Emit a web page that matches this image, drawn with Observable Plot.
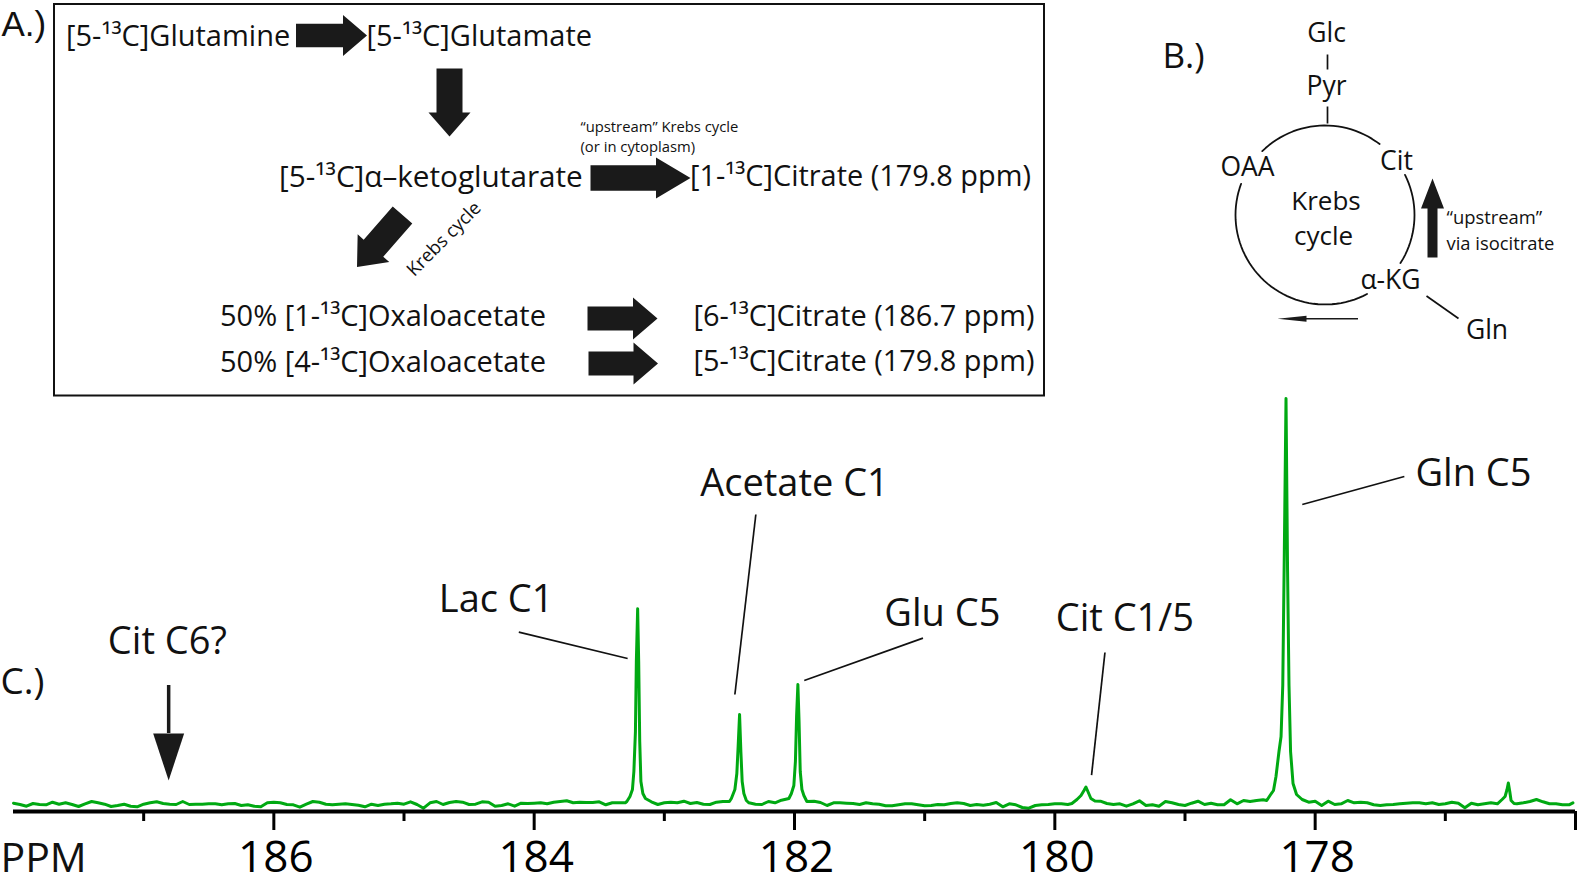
<!DOCTYPE html>
<html><head><meta charset="utf-8">
<script src="https://cdn.jsdelivr.net/npm/d3@7"></script>
<script src="https://cdn.jsdelivr.net/npm/@observablehq/plot@0.6"></script>
<style>html,body{margin:0;padding:0;background:#fff}svg{display:block}#chart{width:1577px;height:884px;overflow:hidden}</style>
</head><body><div id="chart"></div>
<script>
const FONT = "'Open Sans', sans-serif";
const INK = "#111111", BLOCK = "#1a1a1a", GREEN = "#00a912";

/* Spectrum: chemical shift (ppm) and signal (a.u.) */
const spectrumPpm = [
 188.00,187.95,187.90,187.85,187.80,187.75,187.70,187.65,187.60,187.55,
 187.50,187.45,187.40,187.35,187.30,187.25,187.20,187.15,187.10,187.05,
 187.00,186.95,186.90,186.85,186.80,186.75,186.70,186.65,186.60,186.55,
 186.50,186.45,186.40,186.35,186.30,186.25,186.20,186.15,186.10,186.05,
 186.00,185.95,185.90,185.85,185.80,185.75,185.70,185.65,185.60,185.55,
 185.50,185.45,185.40,185.35,185.30,185.25,185.20,185.15,185.10,185.05,
 185.00,184.95,184.90,184.85,184.80,184.75,184.70,184.65,184.60,184.55,
 184.50,184.45,184.40,184.35,184.30,184.25,184.20,184.15,184.10,184.05,
 184.00,183.95,183.90,183.85,183.80,183.75,183.70,183.65,183.60,183.55,
 183.50,183.45,183.40,183.35,183.30,
 183.288,183.264,183.245,183.234,183.222,183.215,183.205,183.197,183.189,183.180,183.165,183.145,
 183.10,183.05,183.00,182.95,182.90,182.85,182.80,182.75,182.70,182.65,182.60,182.55,182.50,
 182.485,182.458,182.443,182.433,182.422,182.412,182.402,182.389,182.370,
 182.35,182.30,182.25,182.20,182.15,182.10,
 182.043,182.024,182.005,181.993,181.984,181.974,181.965,181.956,181.943,181.928,181.905,
 181.85,181.80,181.75,181.70,181.65,181.60,181.55,181.50,181.45,181.40,
 181.35,181.30,181.25,181.20,181.15,181.10,181.05,181.00,
 180.95,180.90,180.85,180.80,180.75,180.70,180.65,180.60,180.55,180.50,
 180.45,180.40,180.35,180.30,180.25,180.20,180.15,180.10,180.05,180.00,179.95,179.90,
 179.869,179.830,179.799,179.776,179.761,179.746,179.723,179.692,
 179.65,179.60,179.55,179.50,179.45,179.40,179.35,179.30,179.25,179.20,
 179.15,179.10,179.05,179.00,178.95,178.90,178.85,178.80,178.75,178.70,
 178.65,178.60,178.55,178.50,178.45,178.40,
 178.372,178.347,178.320,178.301,178.278,178.262,178.249,178.237,178.224,178.212,178.201,178.189,178.170,178.143,
 178.10,178.05,178.00,177.95,177.90,177.85,177.80,177.75,177.70,177.65,
 177.60,177.55,177.50,177.45,177.40,177.35,177.30,177.25,177.20,177.15,
 177.10,177.05,177.00,176.95,176.90,176.85,176.80,176.75,176.70,176.65,176.60,
 176.564,176.541,176.526,176.516,176.505,176.495,176.472,
 176.45,176.40,176.35,176.30,176.25,176.20,176.15,176.10,176.05,176.02
];
const spectrumSignal = [
 8.3,7,5.3,8,7,6.7,9.3,7.3,8.7,7,
 5,7.7,10,8.7,7.3,5,6,7.3,5.3,4.7,
 7.3,8.7,9.7,8,7.3,7,10,7,7.3,7.3,
 7.7,7.7,6.7,7.7,8,6,6.7,5.3,4.7,8.7,
 9.3,8.7,7,6.7,4.3,7.3,10,9.3,7.3,6.7,
 7.3,7.7,7,6.3,4.7,7.3,6,7.3,7.7,8.3,
 7.3,9.7,7,3.3,8.7,10,7,9,10,9.3,
 7,7.3,9.7,9.3,5.3,6,7.7,5.3,8.3,8,
 8.3,8.7,7.7,9.3,10,10.7,8.7,9.3,9,9,
 9.7,6.7,8.7,8.7,8.7,
 10,15,22,40,80,150,202.7,150,70,30,18,13,
 9.7,7,8.7,9.3,8.7,10.3,8,9,7.3,7,9.3,10,10,
 13,22,38,65,97,60,30,18,11,
 8.7,7.3,7,10,8.7,11.3,
 13,18,26,50,95,127,90,40,22,16,10,
 10.3,9,6,8.7,8.7,8.3,8,7,8.7,7.7,
 7.3,5.7,5.7,6.7,7.7,7.7,6.7,5.7,
 6,7,6.7,8,8.7,8,6,7,6.3,7.3,
 9,4.7,7.7,6.7,4,3.3,6,6.7,7,7.7,7.7,7,
 8,12,16,21,24.5,20,13,10.5,
 10.3,8,7,7.7,5.3,7.7,10.7,6,6.7,5.3,
 10,8.7,7,6,8.3,10.3,7,8.3,6.7,6.7,
 11.7,7.7,11,10,11,11.7,
 11,16,21,35,60,75,126,259,413,240,126,60,28,17,
 12,9.3,10.3,6,10.3,7,7.7,11,8.7,9.3,
 8.7,6.7,6,6.7,7,7.7,8.3,8.7,8.7,7.7,
 8.7,7,7.7,9.3,8.3,3.7,8.3,6.7,7.7,8.7,7.7,
 12,15,22,28.5,20,11,8,
 7.7,8.7,10,12,9.7,7.7,7.7,6.7,6.7,8.7
];
const spectrum = spectrumPpm.map((ppm, i) => ({ppm, signal: spectrumSignal[i]}));

const majorTicks = [186, 184, 182, 180, 178, 176];
const minorTicks = [187, 185, 183, 181, 179, 177];
const tickLabels = ["186", "184", "182", "180", "178", ""];

/* Peak names with leader lines, in ppm and signal units */
const peakLabels = [
 {text: "Cit C6?",    ppm: 186.818, signal: 169.8},
 {text: "Lac C1",     ppm: 184.292, signal: 212.1},
 {text: "Acetate C1", ppm: 182.000, signal: 327.8},
 {text: "Glu C5",     ppm: 180.864, signal: 198},
 {text: "Cit C1/5",   ppm: 179.462, signal: 193},
 {text: "Gln C5",     ppm: 176.784, signal: 337.8}
];
const peakLeaders = [
 {ppm1: 184.118, s1: 179.4, ppm2: 183.282, s2: 153},
 {ppm1: 182.297, s1: 297,   ppm2: 182.458, s2: 117},
 {ppm1: 181.925, s1: 131,   ppm2: 181.013, s2: 173.4},
 {ppm1: 179.615, s1: 159,   ppm2: 179.718, s2: 36.3},
 {ppm1: 178.099, s1: 307,   ppm2: 177.315, s2: 335}
];
const citMarkerHead = [
 {ppm: 186.927, signal: 78}, {ppm: 186.689, signal: 78}, {ppm: 186.808, signal: 31}
];
const citMarkerShaft = [{ppm: 186.808, s1: 126, s2: 78}];
const spectrumNotes = [
 {text: "C.)", ppm: 188.10, signal: 129, size: 37},
 {text: "PPM", ppm: 188.10, signal: -47, size: 41}
];

/* Schematic panels A and B, in schematic units */
const panelLetterA = [{text: "A.)", x: 1, y: 24, size: 35}];
const schemeText = [
 {text: "B.)", x: 1162, y: 56, size: 35, anchor: "start"},
 {text: "[5-¹³C]Glutamine", x: 65.5, y: 36, size: 29, anchor: "start"},
 {text: "[5-¹³C]Glutamate", x: 366, y: 36, size: 29, anchor: "start"},
 {text: "[5-¹³C]α–ketoglutarate", x: 278.5, y: 176.5, size: 29.7, anchor: "start"},
 {text: "“upstream” Krebs cycle", x: 580, y: 127, size: 14.8, anchor: "start"},
 {text: "(or in cytoplasm)", x: 580, y: 147, size: 14.8, anchor: "start"},
 {text: "[1-¹³C]Citrate (179.8 ppm)", x: 689.5, y: 176.5, size: 28.9, anchor: "start"},
 {text: "50% [1-¹³C]Oxaloacetate", x: 219.5, y: 316, size: 29, anchor: "start"},
 {text: "50% [4-¹³C]Oxaloacetate", x: 219.5, y: 362, size: 29, anchor: "start"},
 {text: "[6-¹³C]Citrate (186.7 ppm)", x: 693, y: 316, size: 28.9, anchor: "start"},
 {text: "[5-¹³C]Citrate (179.8 ppm)", x: 693, y: 361, size: 28.9, anchor: "start"},
 {text: "Krebs cycle", x: 443.5, y: 238.5, size: 18.5, anchor: "middle", rotate: -45},
 {text: "Glc", x: 1326, y: 33.5, size: 26.5, anchor: "middle"},
 {text: "Pyr", x: 1326, y: 86.5, size: 26.5, anchor: "middle"},
 {text: "OAA", x: 1247, y: 167.5, size: 26.5, anchor: "middle"},
 {text: "Cit", x: 1396, y: 161, size: 26.5, anchor: "middle"},
 {text: "Krebs", x: 1325.5, y: 201, size: 26, anchor: "middle"},
 {text: "cycle", x: 1323, y: 236.5, size: 26, anchor: "middle"},
 {text: "α-KG", x: 1390, y: 280, size: 26.5, anchor: "middle"},
 {text: "Gln", x: 1486.5, y: 330, size: 26.5, anchor: "middle"},
 {text: "“upstream”", x: 1446, y: 218, size: 18.4, anchor: "start"},
 {text: "via isocitrate", x: 1446, y: 243.5, size: 18.4, anchor: "start"}
];
const schemeBox = [{x1: 54, y1: 4, x2: 1044, y2: 395.5}];
const schemeLines = [
 {x1: 1327, y1: 54, x2: 1327, y2: 69},
 {x1: 1327, y1: 106, x2: 1327, y2: 123},
 {x1: 1426, y1: 295.5, x2: 1458, y2: 318}
];
const blockArrows = [
 {tail: [295.5, 35], tip: [366.5, 35], shaft: 23.5, head: 41, length: 24},
 {tail: [449, 68], tip: [449, 136], shaft: 26, head: 42, length: 24},
 {tail: [590, 177.5], tip: [690, 177.5], shaft: 25.5, head: 41, length: 34.5},
 {tail: [402, 214.5], tip: [356.5, 266.5], shaft: 26, head: 42, length: 25},
 {tail: [587, 318], tip: [657, 318], shaft: 24, head: 42, length: 24.5},
 {tail: [588, 363], tip: [657.5, 363], shaft: 24, head: 42, length: 24.5},
 {tail: [1432, 257], tip: [1432, 178], shaft: 10, head: 23, length: 30},
 {tail: [1357.5, 318.3], tip: [1277, 318.3], shaft: 1.6, head: 6, length: 29}
];
const cycleCentre = [1324.5, 214.5], cycleRadius = 89.5;
const cycleArcs = [
 {id: "top", from: 52.4, to: 134.5},
 {id: "right", from: -32.5, to: 26.6},
 {id: "lower", from: 159.6, to: 298}
];

/* geometry helpers for the schematic */
function arrowOutline(a, i) {
  const [x0, y0] = a.tail, [x1, y1] = a.tip;
  const L = Math.hypot(x1 - x0, y1 - y0), ux = (x1 - x0) / L, uy = (y1 - y0) / L;
  const nx = -uy, ny = ux, bx = x1 - ux * a.length, by = y1 - uy * a.length;
  const s = a.shaft / 2, h = a.head / 2;
  return [
    [x0 + nx * s, y0 + ny * s], [bx + nx * s, by + ny * s], [bx + nx * h, by + ny * h],
    [x1, y1],
    [bx - nx * h, by - ny * h], [bx - nx * s, by - ny * s], [x0 - nx * s, y0 - ny * s]
  ].map(([x, y]) => ({id: i, x, y}));
}
function arcPoints(a) {
  const n = Math.ceil(Math.abs(a.to - a.from) / 3);
  return d3.range(n + 1).map(k => {
    const t = (a.from + (a.to - a.from) * k / n) * Math.PI / 180;
    return {id: a.id, x: cycleCentre[0] + cycleRadius * Math.cos(t), y: cycleCentre[1] - cycleRadius * Math.sin(t)};
  });
}

const SPLIT = 397;
const scheme = Plot.plot({
  width: 1577, height: SPLIT, margin: 0,
  style: {fontFamily: FONT, background: "#fff", color: INK},
  x: {domain: [0, 1577], range: [0, 1577], axis: null},
  y: {domain: [SPLIT, 0], range: [SPLIT, 0], axis: null},
  marks: [
    Plot.rect(schemeBox, {x1: "x1", y1: "y1", x2: "x2", y2: "y2", fill: "none", stroke: INK, strokeWidth: 2}),
    Plot.line(blockArrows.flatMap(arrowOutline), {x: "x", y: "y", z: "id", fill: BLOCK, stroke: "none"}),
    Plot.line(cycleArcs.flatMap(arcPoints), {x: "x", y: "y", z: "id", stroke: INK, strokeWidth: 1.8}),
    Plot.link(schemeLines, {x1: "x1", y1: "y1", x2: "x2", y2: "y2", stroke: INK, strokeWidth: 1.7}),
    Plot.text(panelLetterA, {text: "text", x: "x", y: "y", fontSize: "size", textAnchor: "start",
      fontFamily: "'Liberation Sans', sans-serif", fill: INK}),
    Plot.text(schemeText, {text: "text", x: "x", y: "y", fontSize: "size", textAnchor: "start",
      filter: d => d.anchor === "start", fill: INK}),
    Plot.text(schemeText, {text: "text", x: "x", y: "y", fontSize: "size", textAnchor: "middle",
      filter: d => d.anchor === "middle" && !d.rotate, fill: INK}),
    Plot.text(schemeText, {text: "text", x: "x", y: "y", fontSize: "size", textAnchor: "middle", rotate: -45,
      filter: d => d.rotate, fill: INK})
  ]
});

const spectrumPlot = Plot.plot({
  width: 1577, height: 884 - SPLIT,
  marginLeft: 13, marginRight: 2, marginTop: 0, marginBottom: 73,
  style: {fontFamily: FONT, background: "#fff", color: "#000"},
  x: {domain: [188, 176], label: null},
  y: {domain: [0, 414], axis: null},
  marks: [
    Plot.ruleX(majorTicks, {y1: 0, y2: -19, stroke: "#000", strokeWidth: 3}),
    Plot.axisX({ticks: majorTicks, tickSize: 0, tickPadding: 29, dx: 2, fontSize: 44,
      tickFormat: d => tickLabels[majorTicks.indexOf(d)], label: null}),
    Plot.ruleX(minorTicks, {y1: 0, y2: -10, stroke: "#000", strokeWidth: 3}),
    Plot.line(spectrum, {x: "ppm", y: "signal", stroke: GREEN, strokeWidth: 3, strokeLinejoin: "round"}),
    Plot.ruleY([0], {stroke: "#000", strokeWidth: 4}),
    Plot.link(peakLeaders, {x1: "ppm1", y1: "s1", x2: "ppm2", y2: "s2", stroke: INK, strokeWidth: 1.7}),
    Plot.ruleX(citMarkerShaft, {x: "ppm", y1: "s1", y2: "s2", stroke: BLOCK, strokeWidth: 3.5}),
    Plot.line(citMarkerHead, {x: "ppm", y: "signal", fill: BLOCK, stroke: "none"}),
    Plot.text(peakLabels, {text: "text", x: "ppm", y: "signal", fontSize: 38, fill: INK}),
    Plot.text(spectrumNotes, {text: "text", x: "ppm", y: "signal", fontSize: "size", textAnchor: "start", fill: INK})
  ]
});
document.getElementById("chart").append(scheme, spectrumPlot);
</script>
</body></html>
